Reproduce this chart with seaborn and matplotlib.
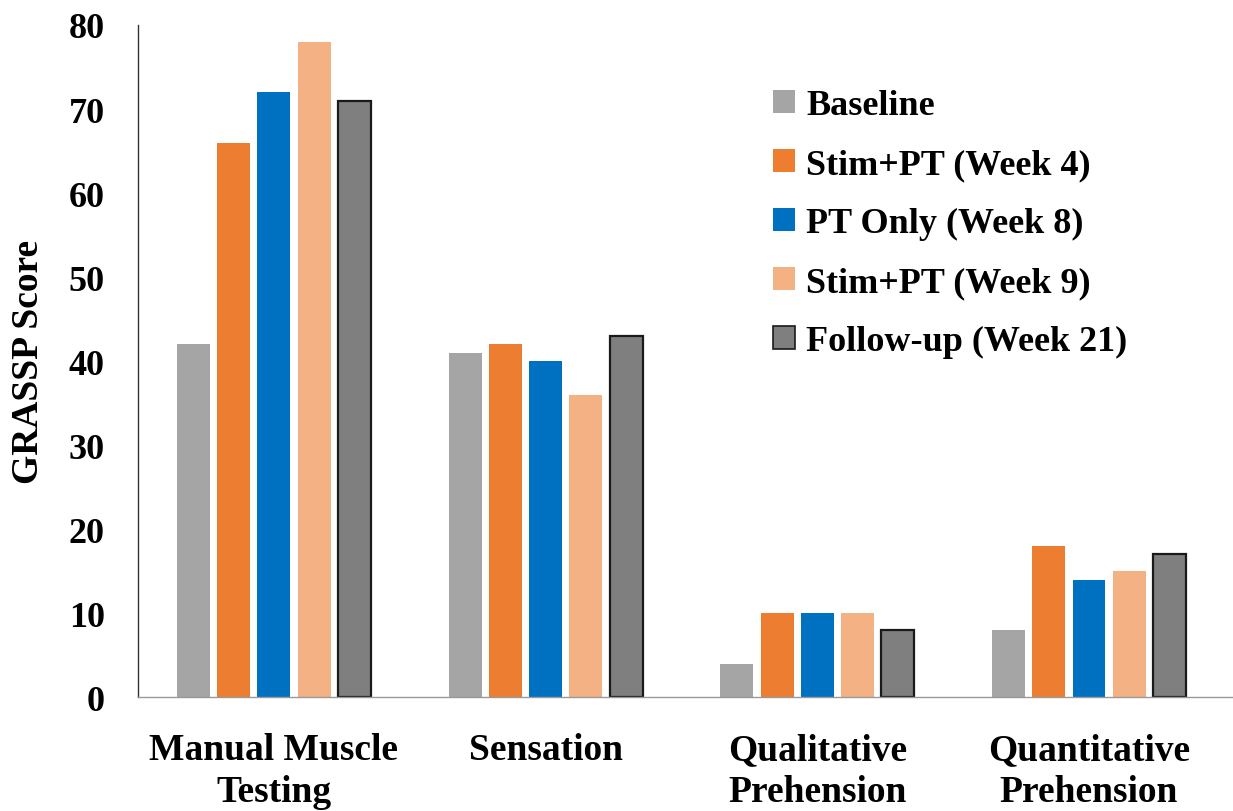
import numpy as np
import pandas as pd
import seaborn as sns
import matplotlib.pyplot as plt
from matplotlib.patches import Patch

categories = ['Manual Muscle\nTesting', 'Sensation', 'Qualitative\nPrehension', 'Quantitative\nPrehension']
series = ['Baseline', 'Stim+PT (Week 4)', 'PT Only (Week 8)', 'Stim+PT (Week 9)', 'Follow-up (Week 21)']

baseline = [42, 41, 4, 8]
stim_wk4 = [66, 42, 10, 18]
pt_wk8 = [72, 40, 10, 14]
stim_wk9 = [78, 36, 10, 15]
followup = [71, 43, 8, 17]

colors = ['#A5A5A5', '#ED7D31', '#0070C0', '#F4B183', '#7F7F7F']

# long form table for seaborn
rows = []
for name, vals in zip(series, [baseline, stim_wk4, pt_wk8, stim_wk9, followup]):
    for cat, v in zip(categories, vals):
        rows.append({'category': cat, 'series': name, 'score': v})
df = pd.DataFrame(rows)

sns.set_style('white')
plt.rcParams['font.family'] = ['Liberation Serif', 'DejaVu Serif']
plt.rcParams['font.weight'] = 'bold'
plt.rcParams['text.color'] = 'black'
plt.rcParams['axes.labelcolor'] = 'black'
plt.rcParams['xtick.color'] = 'black'
plt.rcParams['ytick.color'] = 'black'

fig, ax = plt.subplots(figsize=(12.33, 8.12), dpi=100)
fig.subplots_adjust(left=0.112, right=1.0, bottom=0.14, top=0.968)

sns.barplot(data=df, x='category', y='score', hue='series', order=categories,
            hue_order=series, palette=colors, width=0.74, gap=0.18,
            linewidth=0, saturation=1, legend=False, ax=ax)

# only the follow-up bars have a dark outline
for bar in ax.containers[4]:
    bar.set_edgecolor('#1a1a1a')
    bar.set_linewidth(1.6)

ax.set_ylim(0, 80)
ax.set_xlim(-0.5, 3.53)
ax.set_yticks(range(0, 81, 10))
ax.set_xlabel('')
ax.set_ylabel('GRASSP Score', fontsize=27, fontweight='bold')
ax.yaxis.set_label_coords(-0.084, 0.5)

ax.tick_params(axis='y', direction='in', length=10, width=1, pad=24, labelsize=26, color='#333333')
ax.tick_params(axis='x', length=0, pad=25, labelsize=27)
for lab in ax.get_xticklabels() + ax.get_yticklabels():
    lab.set_fontweight('bold')
for lab in ax.get_xticklabels():
    lab.set_linespacing(1.25)

sns.despine(ax=ax, top=True, right=True)
ax.spines['left'].set_color('#333333')
ax.spines['left'].set_linewidth(1)
ax.spines['bottom'].set_color('#999999')
ax.spines['bottom'].set_linewidth(1)

handles = [Patch(facecolor=c, edgecolor='#1a1a1a' if i == 4 else c, linewidth=1.2 if i == 4 else 0)
           for i, c in enumerate(colors)]
ax.legend(handles, series, loc='upper left', bbox_to_anchor=(0.627, 0.889),
          bbox_transform=fig.transFigure, frameon=False,
          handlelength=0.62, handleheight=0.6, handletextpad=0.3,
          labelspacing=0.72, borderpad=0, borderaxespad=0,
          prop={'weight': 'bold', 'size': 26})

plt.savefig('out.png', dpi=100)
